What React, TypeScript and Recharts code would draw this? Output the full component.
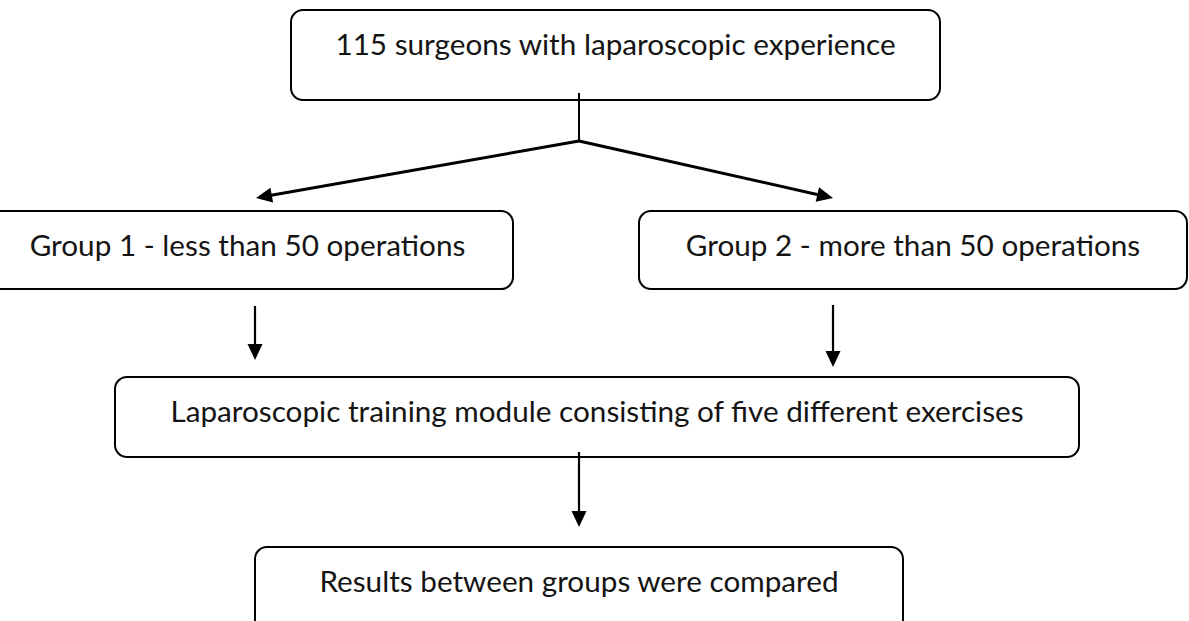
import React from 'react';
import { ComposedChart, XAxis, YAxis, ReferenceArea, ReferenceLine } from 'recharts';

const W = 1189;
const H = 621;

// Flowchart nodes
const nodeLabels = [
  '115 surgeons with laparoscopic experience',
  'Group 1 - less than 50 operations',
  'Group 2 - more than 50 operations',
  'Laparoscopic training module consisting of five different exercises',
  'Results between groups were compared',
];
const nodeLeft = [291, -18, 639, 115, 255];
const nodeRight = [940, 513, 1187, 1079, 903];
const nodeTop = [10, 211, 211, 377, 547];
const nodeBottom = [100, 289, 289, 457, 640];

// Connectors
const edgeFromX = [579, 579, 579, 255, 833, 579];
const edgeFromY = [93, 141, 141, 306, 305, 452];
const edgeToX = [579, 256, 833, 255, 833, 579];
const edgeToY = [141, 198, 198, 360, 367, 527];
const edgeArrow = [false, true, true, true, true, true];
const edgeWidth = [2, 3, 3, 2.2, 2.2, 2.2];

const nodeData = nodeLabels.map((label, i) => ({
  label,
  cx: (nodeLeft[i] + nodeRight[i]) / 2,
  cy: (nodeTop[i] + nodeBottom[i]) / 2,
}));

const FONT = 'Lato, "Open Sans", sans-serif';

function BoxShape(p: any) {
  const { x, y, width, height } = p;
  return (
    <rect
      x={x}
      y={y}
      width={width}
      height={height}
      rx={12}
      ry={12}
      fill="#fff"
      stroke="#000"
      strokeWidth={2}
    />
  );
}

function makeLabel(text: string) {
  return (props: any) => {
    const vb = props.viewBox || {};
    return (
      <text
        x={vb.x + vb.width / 2}
        y={vb.y + 45}
        textAnchor="middle"
        fontFamily={FONT}
        fontSize={29.7}
        fill="#141414"
      >
        {text}
      </text>
    );
  };
}

function makeEdge(head: boolean, sw: number) {
  return (p: any) => {
    const { x1, y1, x2, y2 } = p;
    if (!head) {
      return <line x1={x1} y1={y1} x2={x2} y2={y2} stroke="#000" strokeWidth={sw} />;
    }
    const dx = x2 - x1;
    const dy = y2 - y1;
    const len = Math.hypot(dx, dy) || 1;
    const ux = dx / len;
    const uy = dy / len;
    const L = 16;
    const hw = 7.5;
    const bx = x2 - ux * L;
    const by = y2 - uy * L;
    const px = -uy;
    const py = ux;
    return (
      <g>
        <line x1={x1} y1={y1} x2={bx + ux * 2} y2={by + uy * 2} stroke="#000" strokeWidth={sw} />
        <polygon
          points={`${x2},${y2} ${bx + px * hw},${by + py * hw} ${bx - px * hw},${by - py * hw}`}
          fill="#000"
        />
      </g>
    );
  };
}

export default function App() {
  return (
    <div style={{ width: W, height: H, background: '#fff' }}>
      <style>{`body{margin:0;background:#fff}`}</style>
      <ComposedChart width={W} height={H} data={nodeData} margin={{ top: 0, right: 0, bottom: 0, left: 0 }}>
        <XAxis dataKey="cx" type="number" domain={[0, W]} hide allowDataOverflow />
        <YAxis dataKey="cy" type="number" domain={[0, H]} reversed hide allowDataOverflow />
        {nodeLabels.map((label, i) => (
          <ReferenceArea
            key={'n' + i}
            x1={nodeLeft[i]}
            x2={nodeRight[i]}
            y1={nodeTop[i]}
            y2={nodeBottom[i]}
            ifOverflow="visible"
            shape={BoxShape}
            label={makeLabel(label)}
          />
        ))}
        {edgeFromX.map((_, i) => (
          <ReferenceLine
            key={'e' + i}
            segment={[
              { x: edgeFromX[i], y: edgeFromY[i] },
              { x: edgeToX[i], y: edgeToY[i] },
            ]}
            ifOverflow="visible"
            shape={makeEdge(edgeArrow[i], edgeWidth[i])}
          />
        ))}
      </ComposedChart>
    </div>
  );
}
